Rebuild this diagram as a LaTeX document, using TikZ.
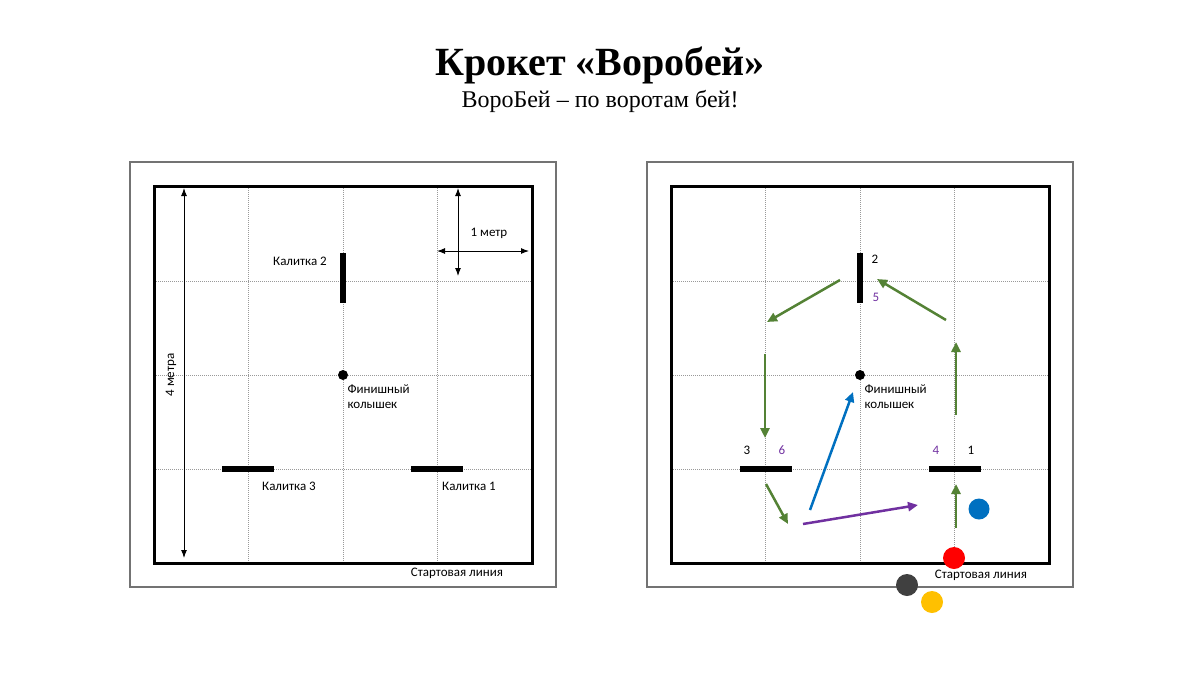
\documentclass[tikz,border=0pt]{standalone}
\usepackage{fontspec}
\setmainfont{Carlito}
\newfontfamily\titlefont{Liberation Serif}
\usetikzlibrary{arrows.meta}
\colorlet{FrameGray}{black!55}
\definecolor{MoveGreen}{RGB}{84,130,53}
\definecolor{MoveBlue}{RGB}{0,112,192}
\definecolor{MovePurple}{RGB}{112,48,160}
\definecolor{BallYellow}{RGB}{255,192,0}
\tikzset{
    field/.style={line width=3pt},
    outerframe/.style={draw=FrameGray, line width=2pt},
    gridline/.style={gray!80, densely dotted, line width=1pt},
    gate/.style={line width=5.5pt},
    lbl/.style={font=\fontsize{13}{15}\selectfont},
    move/.style={-{Triangle[length=10pt,width=9pt]}, line width=2.5pt},
    dim/.style={{Latex[length=8pt]}-{Latex[length=8pt]}, line width=1pt}
}
\begin{document}
\begin{tikzpicture}[x=1pt, y=-1pt]
    \useasboundingbox (0,0) rectangle (1200,675);

    % Заголовок
    \node (title) at (600,65) {\titlefont\bfseries\fontsize{40}{44}\selectfont Крокет «Воробей»};
    \node (subtitle) at (600,101) {\titlefont\fontsize{24}{27}\selectfont ВороБей – по воротам бей!};

    % Поля
    \foreach \dx in {0,517} {
        \draw [outerframe] (130+\dx,162) rectangle (556+\dx,587);
        \foreach \gx in {94,189,283}
            \draw [gridline] (154+\gx+\dx,186) -- (154+\gx+\dx,563);
        \foreach \gy in {281,375,469}
            \draw [gridline] (154+\dx,\gy) -- (532+\dx,\gy);
        \draw [field] (154+\dx,186) rectangle (532+\dx,563);
    }

    % Левое поле
    \draw [gate] (343,253) -- (343,303);
    \draw [gate] (222,469) -- (274,469);
    \draw [gate] (411,469) -- (463,469);
    \fill (343,375) circle (5);
    \node [lbl] (kal2) at (300,261) {Калитка 2};
    \node [lbl] (kal3) at (289,486) {Калитка 3};
    \node [lbl] (kal1) at (469,486) {Калитка 1};
    \node [lbl, align=left, anchor=north west] (peg) at (344,381) {Финишный\\колышек};
    \node [lbl] (start) at (457,573) {Стартовая линия};

    % Размеры
    \coordinate (Htop) at (184,188);
    \coordinate (Hbot) at (184,558);
    \draw [dim] (Htop) -- (Hbot);
    \node [lbl, rotate=90] (four) at (171,375) {4 метра};
    \coordinate (Vtop) at (458,188);
    \coordinate (Vbot) at (458,276);
    \draw [dim] (Vtop) -- (Vbot);
    \coordinate (Hl) at (437,251);
    \coordinate (Hr) at (529,251);
    \draw [dim] (Hl) -- (Hr);
    \node [lbl] (one) at (489,233) {1 метр};

    % Правое поле
    \draw [gate] (860,253) -- (860,303);
    \draw [gate] (740,469) -- (792,469);
    \draw [gate] (929,469) -- (981,469);
    \fill (860,375) circle (5);
    \node [lbl] (n2) at (875,259) {2};
    \node [lbl, text=MovePurple] (n5) at (876,297) {5};
    \node [lbl] (n3) at (747,450) {3};
    \node [lbl, text=MovePurple] (n6) at (782,450) {6};
    \node [lbl] (n1) at (971,450) {1};
    \node [lbl, text=MovePurple] (n4) at (936,450) {4};
    \node [lbl, align=left, anchor=north west] (peg2) at (861,381) {Финишный\\колышек};
    \node [lbl] (start2) at (981,575) {Стартовая линия};

    % Ходы
    \draw [move, MoveGreen] (956,528) -- (956,484);
    \draw [move, MoveGreen] (956,415) -- (956,342);
    \draw [move, MoveGreen] (946,320) -- (877,279);
    \draw [move, MoveGreen] (840,280) -- (767,322);
    \draw [move, MoveGreen] (765,354) -- (765,438);
    \draw [move, MoveGreen] (766,484) -- (788,524);
    \draw [move, MoveBlue] (810,510) -- (853,392);
    \draw [move, MovePurple] (803,524) -- (918,505);

    % Шары
    \fill [MoveBlue] (979,509) circle (10.5);
    \fill [red] (954,558) circle (11);
    \fill [black!75] (907,585) circle (11);
    \fill [BallYellow] (932,602) circle (11);

\end{tikzpicture}
\end{document}
